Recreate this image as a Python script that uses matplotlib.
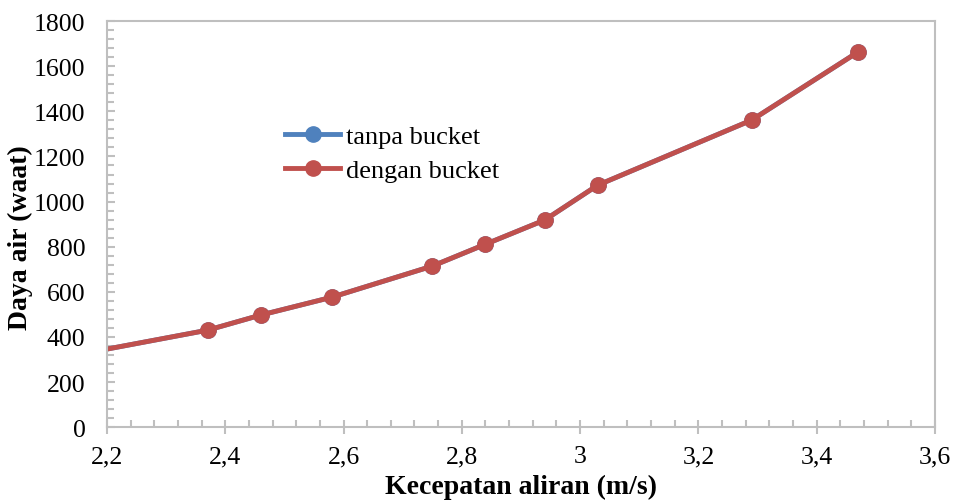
import matplotlib.pyplot as plt
from matplotlib.ticker import MultipleLocator, FuncFormatter

kecepatan = [2.10, 2.37, 2.46, 2.58, 2.75, 2.84, 2.94, 3.03, 3.29, 3.47]
tanpa_bucket = [297, 430, 497, 576, 714, 811, 918, 1073, 1361, 1663]
dengan_bucket = [297, 430, 497, 576, 714, 811, 918, 1073, 1361, 1663]

plt.rcParams['font.family'] = ['Liberation Serif', 'DejaVu Serif']

fig = plt.figure(figsize=(9.55, 5.02), dpi=100)
ax = fig.add_axes([0.112, 0.147, 0.867, 0.809])

ax.plot(kecepatan, tanpa_bucket, color='#4F81BD', lw=3.5, marker='o', ms=11,
        label='tanpa bucket')
ax.plot(kecepatan, dengan_bucket, color='#C0504D', lw=3.5, marker='o', ms=11,
        label='dengan bucket')

ax.set_xlim(2.2, 3.6)
ax.set_ylim(0, 1800)
ax.xaxis.set_major_locator(MultipleLocator(0.2))
ax.xaxis.set_minor_locator(MultipleLocator(0.04))
ax.yaxis.set_major_locator(MultipleLocator(200))
ax.yaxis.set_minor_locator(MultipleLocator(40))
ax.xaxis.set_major_formatter(FuncFormatter(lambda v, p: ('%g' % round(v, 1)).replace('.', ',')))

for s in ax.spines.values():
    s.set_color('#BFBFBF')
    s.set_linewidth(1.5)

ax.tick_params(axis='x', which='major', direction='inout', length=10, width=1.5,
               color='#BFBFBF', labelsize=18.5, pad=8)
ax.tick_params(axis='x', which='minor', direction='in', length=5, width=1.5, color='#BFBFBF')
ax.tick_params(axis='y', which='major', direction='in', length=6, width=1.5,
               color='#BFBFBF', labelsize=18.5, pad=15.5)
ax.tick_params(axis='y', which='minor', direction='in', length=5, width=1.5, color='#BFBFBF')

ax.set_xlabel('Kecepatan aliran (m/s)', fontsize=20, fontweight='bold')
ax.set_ylabel('Daya air (waat)', fontsize=20, fontweight='bold')
ax.xaxis.set_label_coords(0.5, -0.115)
ax.yaxis.set_label_coords(-0.089, 0.47)

ax.legend(loc='upper left', bbox_to_anchor=(0.215, 0.745), frameon=False, fontsize=19,
          handlelength=2.1, handletextpad=0.2, labelspacing=0.39,
          borderpad=0, borderaxespad=0)

fig.savefig('out.png', dpi=100)
